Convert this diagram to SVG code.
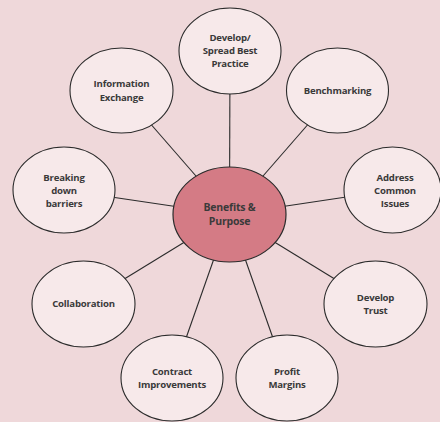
<svg xmlns="http://www.w3.org/2000/svg" width="440" height="422" viewBox="0 0 440 422">
<style>
.bg{fill:#efd8da}
.conn line{stroke:#2b2b2b;stroke-width:1.1}
.node ellipse{fill:#f7e9ea;stroke:#2b2b2b;stroke-width:1.1}
.hub ellipse{fill:#d47b85;stroke:#2b2b2b;stroke-width:1.2}
text{font-family:"Open Sans","Noto Sans",sans-serif;font-weight:bold;font-size:9.6px;fill:#3a3a3a;text-anchor:middle;letter-spacing:-0.2px}
.hub text{font-size:10.5px}
</style>
<rect class="bg" x="0" y="0" width="440" height="422"/>
<g id="connectors" class="conn">
<line x1="229.5" y1="214.5" x2="230" y2="51"/>
<line x1="229.5" y1="214.5" x2="121.5" y2="90.5"/>
<line x1="229.5" y1="214.5" x2="337.5" y2="90.5"/>
<line x1="229.5" y1="214.5" x2="64" y2="190"/>
<line x1="229.5" y1="214.5" x2="393" y2="190"/>
<line x1="229.5" y1="214.5" x2="83.5" y2="304"/>
<line x1="229.5" y1="214.5" x2="375.5" y2="304"/>
<line x1="229.5" y1="214.5" x2="172" y2="378"/>
<line x1="229.5" y1="214.5" x2="287" y2="378"/>
</g>
<g id="develop-spread" class="node">
<ellipse cx="230" cy="51" rx="51" ry="43"/>
<text x="230" y="41">Develop/</text>
<text x="230" y="54">Spread Best</text>
<text x="230" y="67">Practice</text>
</g>
<g id="information-exchange" class="node">
<ellipse cx="121.5" cy="90.5" rx="51.5" ry="42.5"/>
<text x="121.5" y="87">Information</text>
<text x="121.5" y="101">Exchange</text>
</g>
<g id="benchmarking" class="node">
<ellipse cx="337.5" cy="90.5" rx="51" ry="42.5"/>
<text x="337.5" y="94">Benchmarking</text>
</g>
<g id="breaking-down-barriers" class="node">
<ellipse cx="64" cy="190" rx="51" ry="43"/>
<text x="64" y="181">Breaking</text>
<text x="64" y="194">down</text>
<text x="64" y="207">barriers</text>
</g>
<g id="address-common-issues" class="node">
<ellipse cx="392.5" cy="190" rx="48.5" ry="43"/>
<text x="395" y="181">Address</text>
<text x="395" y="194">Common</text>
<text x="395" y="207">Issues</text>
</g>
<g id="collaboration" class="node">
<ellipse cx="83.5" cy="304" rx="51.5" ry="43"/>
<text x="83.5" y="307">Collaboration</text>
</g>
<g id="develop-trust" class="node">
<ellipse cx="375.5" cy="304" rx="51.5" ry="43"/>
<text x="375.5" y="301">Develop</text>
<text x="375.5" y="314">Trust</text>
</g>
<g id="contract-improvements" class="node">
<ellipse cx="172" cy="378" rx="51" ry="43"/>
<text x="172" y="375">Contract</text>
<text x="172" y="388">Improvements</text>
</g>
<g id="profit-margins" class="node">
<ellipse cx="287" cy="378" rx="51" ry="43"/>
<text x="287" y="375">Profit</text>
<text x="287" y="388">Margins</text>
</g>
<g id="benefits-purpose" class="hub">
<ellipse cx="229.5" cy="214.5" rx="56.5" ry="47.5"/>
<text x="229.5" y="211">Benefits &amp;</text>
<text x="229.5" y="225">Purpose</text>
</g>
</svg>
